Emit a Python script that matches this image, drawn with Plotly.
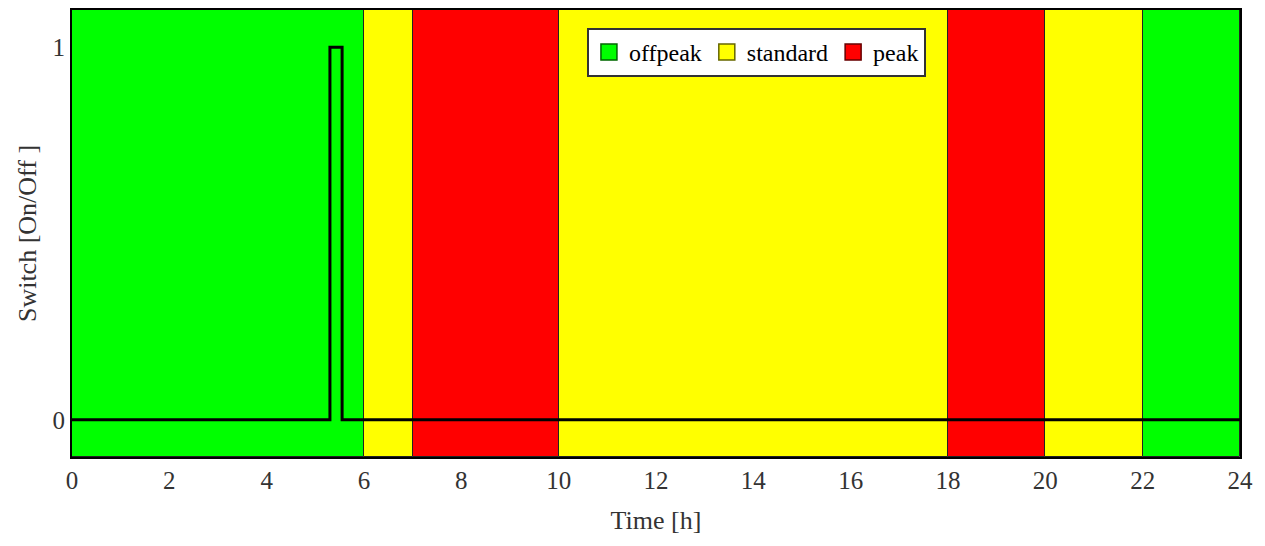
import plotly.graph_objects as go

# Tariff periods (start hour, duration)
offpeak_start = [0, 22]
offpeak_dur = [6, 2]
standard_start = [6, 10, 20]
standard_dur = [1, 8, 2]
peak_start = [7, 18]
peak_dur = [3, 2]

# Switch signal
switch_t = [0, 5.3, 5.55, 24]
switch_v = [0, 1, 0, 0]

y_min, y_max = -0.1, 1.1
FONT = "Liberation Serif"

fig = go.Figure()
cats = [("offpeak", offpeak_start, offpeak_dur, "#00ff00", "#006600"),
        ("standard", standard_start, standard_dur, "#ffff00", "#666600"),
        ("peak", peak_start, peak_dur, "#ff0000", "#660000")]
for name, xs, ws, col, edge in cats:
    fig.add_trace(go.Bar(
        x=xs, y=[y_max - y_min] * len(xs), base=[y_min] * len(xs),
        width=ws, offset=0, name=name, showlegend=False,
        marker=dict(color=col, line=dict(color="#222222", width=1)),
        hoverinfo="skip",
    ))

fig.add_trace(go.Scatter(
    x=switch_t, y=switch_v, mode="lines", line=dict(color="black", width=3, shape="hv"),
    showlegend=False,
))

# legend entries with large square swatches
for name, xs, ws, col, edge in cats:
    fig.add_trace(go.Scatter(
        x=[None], y=[None], mode="markers", name=name,
        marker=dict(symbol="square", size=24, color=col, line=dict(color=edge, width=1.5)),
    ))

fig.update_layout(
    width=1265, height=546,
    margin=dict(l=64, r=33, t=0, b=97),
    paper_bgcolor="white", plot_bgcolor="white",
    barmode="overlay", bargap=0,
    font=dict(family=FONT, size=25, color="#333333"),
    legend=dict(orientation="h", x=0.586, xanchor="center", y=0.905, yanchor="middle",
                bgcolor="white", bordercolor="#333333", borderwidth=2,
                font=dict(family=FONT, size=24, color="black"),
                itemwidth=30, tracegroupgap=0),
    xaxis=dict(range=[0, 24], tickvals=list(range(0, 25, 2)), showgrid=False, zeroline=False,
               showline=True, linecolor="black", linewidth=2, mirror=True, ticks="",
               title=dict(text="Time [h]", standoff=18, font=dict(size=26))),
    yaxis=dict(range=[y_min, y_max], tickvals=[0, 1], showgrid=False, zeroline=False,
               showline=True, linecolor="black", linewidth=2, mirror=True, ticks="",
               title=dict(text="Switch [On/Off ]", standoff=8, font=dict(size=26))),
)
fig.write_html("out.html")
